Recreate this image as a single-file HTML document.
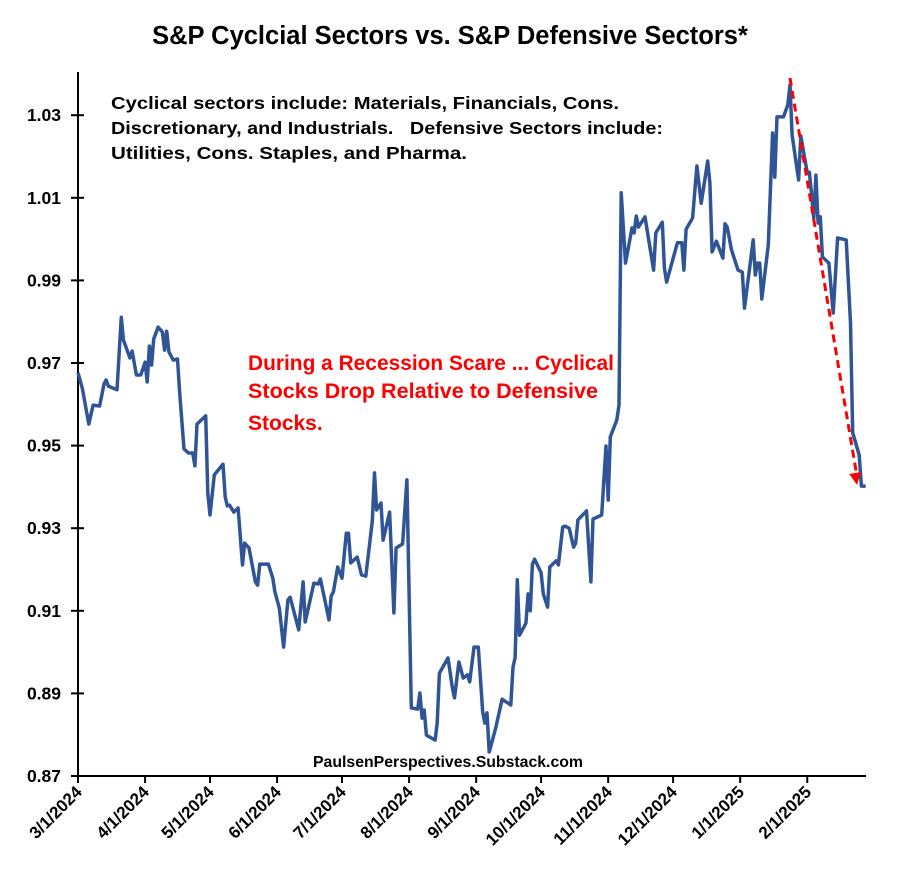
<!DOCTYPE html>
<html><head><meta charset="utf-8"><style>
html,body{margin:0;padding:0;background:#fff;}
svg{display:block;font-family:"Liberation Sans",Arial,sans-serif;}
text{white-space:pre;}
</style></head><body>
<svg id="chart" width="900" height="888" viewBox="0 0 900 888">
<text x="450" y="44" text-anchor="middle" font-size="25.5" font-weight="bold">S&amp;P Cyclcial Sectors vs. S&amp;P Defensive Sectors*</text>
<g font-size="17.5" font-weight="bold">
<text x="111" y="109" textLength="508" lengthAdjust="spacingAndGlyphs">Cyclical sectors include: Materials, Financials, Cons.</text>
<text x="111" y="134" textLength="552" lengthAdjust="spacingAndGlyphs">Discretionary, and Industrials.   Defensive Sectors include:</text>
<text x="111" y="159" textLength="356" lengthAdjust="spacingAndGlyphs">Utilities, Cons. Staples, and Pharma.</text>
</g>
<g font-size="21" font-weight="bold" fill="#ff0000">
<text x="248" y="370" textLength="366" lengthAdjust="spacingAndGlyphs">During a Recession Scare ... Cyclical</text>
<text x="248" y="398" textLength="350" lengthAdjust="spacingAndGlyphs">Stocks Drop Relative to Defensive</text>
<text x="248" y="430">Stocks.</text>
</g>
<text x="448" y="767" text-anchor="middle" font-size="15.5" font-weight="bold" textLength="270" lengthAdjust="spacingAndGlyphs">PaulsenPerspectives.Substack.com</text>
<g id="axes"></g>
<g id="marks"></g>
</svg>
<script>
const days=[0,2,5,7,10,12,13,14,18,20,21,24,25,27,29,31,32,33,34,35,37,39,40,41,42,44,46,47,49,51,53,54,55,59,60,61,63,67,68,69,70,72,74,76,77,79,82,83,84,88,90,91,93,95,97,98,102,104,105,109,111,112,116,117,118,120,122,124,125,126,129,131,133,136,137,138,140,141,144,146,147,150,152,154,157,158,159,160,161,165,166,167,171,173,174,176,178,180,181,183,185,187,188,189,190,193,196,200,201,202,203,204,207,208,209,210,211,214,215,217,218,221,222,224,225,227,229,230,231,235,237,238,242,244,245,246,249,250,251,253,256,257,258,259,262,266,267,270,271,272,277,279,280,281,284,286,288,291,292,293,295,298,299,300,302,305,307,308,312,313,314,315,316,319,321,322,323,326,328,329,330,333,334,337,338,340,341,342,343,344,347,349,351,355,357,358,361,362,364];
const values=[.9676,.9639,.9552,.9598,.9596,.9649,.9659,.9644,.9635,.9811,.9756,.9712,.9729,.9671,.9671,.9702,.9654,.9741,.9695,.9758,.9787,.9775,.9731,.9777,.9727,.9707,.9710,.9627,.9492,.9482,.9482,.9451,.9552,.9572,.9385,.9332,.9429,.9455,.9376,.9354,.9356,.9339,.9349,.9211,.9264,.9252,.9170,.9162,.9213,.9213,.9179,.9146,.9107,.9012,.9126,.9133,.9054,.9170,.9073,.9167,.9165,.9177,.9078,.9136,.9146,.9206,.9179,.9288,.9288,.9216,.9230,.9187,.9184,.9317,.9434,.9344,.9361,.9271,.9339,.9095,.9252,.9262,.9417,.8865,.8862,.8901,.8840,.8860,.8799,.8787,.8828,.8949,.8986,.8913,.8889,.8976,.8937,.8945,.8928,.9012,.9012,.8855,.8828,.8853,.8758,.8816,.8886,.8872,.8964,.8986,.9175,.9041,.9070,.9141,.9100,.9213,.9225,.9192,.9141,.9109,.9206,.9221,.9211,.9303,.9305,.9300,.9254,.9264,.9320,.9342,.9170,.9322,.9332,.9499,.9368,.9521,.9562,.9598,1.0112,.9942,1.0027,1.0015,1.0056,1.0029,1.0054,.9925,1.0015,1.0041,.9930,.9896,.9991,.9991,.9925,1.0024,1.0051,1.0177,1.0087,1.0189,1.0136,.9969,.9995,.9954,1.0037,1.0029,.9974,.9925,.9920,.9833,.9998,.9913,.9942,.9942,.9855,.9986,1.0257,1.0150,1.0296,1.0296,1.0325,1.0373,1.0252,1.0143,1.0250,1.0160,1.0162,1.0051,1.0155,1.0039,1.0054,.9957,.9942,.9821,1.0003,.9998,.9797,.9531,.9477,.9402,.9402];
const yTicks=[0.87,0.89,0.91,0.93,0.95,0.97,0.99,1.01,1.03];
const xTickDays=[0,31,61,92,122,153,184,214,245,275,306,337];
const xTickLabels=["3/1/2024","4/1/2024","5/1/2024","6/1/2024","7/1/2024","8/1/2024","9/1/2024","10/1/2024","11/1/2024","12/1/2024","1/1/2025","2/1/2025"];
const arrowDays=[329,360];
const arrowValues=[1.039,0.9405];

const X0=78,PXD=2.164,Y0=776,PXV=4130;
const xs=d=>X0+d*PXD;
const ys=v=>Y0-(v-0.87)*PXV;
const NS="http://www.w3.org/2000/svg";
function mk(tag,attrs,parent){const e=document.createElementNS(NS,tag);for(const k in attrs)e.setAttribute(k,attrs[k]);parent.appendChild(e);return e;}
const axes=document.getElementById('axes'),marks=document.getElementById('marks');
let a=mk('line',{x1:X0,y1:72,x2:X0,y2:Y0,stroke:'#000','stroke-width':2},axes);


a=mk('line',{x1:X0,y1:Y0,x2:866,y2:Y0,stroke:'#000','stroke-width':2},axes);


yTicks.forEach(v=>{
  const y=ys(v);
  const t=mk('line',{x1:X0-7,y1:y,x2:X0+6,y2:y,stroke:'#000','stroke-width':2},axes);
  
  
  const l=mk('text',{x:61,y:y+6,'text-anchor':'end','font-size':17.5,'font-weight':'bold'},axes);
  l.textContent=v.toFixed(2);
  
  
});
xTickDays.forEach((d,i)=>{
  const x=xs(d);
  const t=mk('line',{x1:x,y1:Y0,x2:x,y2:Y0+7,stroke:'#000','stroke-width':2},axes);
  
  
  const l=mk('text',{x:x+5,y:Y0+17,'text-anchor':'end','font-size':17,'font-weight':'bold',transform:`rotate(-45 ${x+5} ${Y0+17})`},axes);
  l.textContent=xTickLabels[i];
  
  
});
const pts=days.map((d,i)=>xs(d).toFixed(1)+','+ys(values[i]).toFixed(1)).join(' ');
const line=mk('polyline',{points:pts,fill:'none',stroke:'#2f5597','stroke-width':3.5,'stroke-linejoin':'round'},marks);


const ax1=xs(arrowDays[0]),ay1=ys(arrowValues[0]),ax2=xs(arrowDays[1]),ay2=ys(arrowValues[1]);
const ar=mk('line',{x1:ax1,y1:ay1,x2:ax2,y2:ay2-8,stroke:'#ff0000','stroke-width':3,'stroke-dasharray':'8,5'},marks);


const ang=Math.atan2(ay2-ay1,ax2-ax1);
const hx=ax2,hy=ay2,L=12,W=6;
const bx=hx-L*Math.cos(ang),by=hy-L*Math.sin(ang);
const head=mk('polygon',{points:`${hx},${hy} ${bx-W*Math.sin(ang)},${by+W*Math.cos(ang)} ${bx+W*Math.sin(ang)},${by-W*Math.cos(ang)}`,fill:'#ff0000'},marks);


</script>
</body></html>
